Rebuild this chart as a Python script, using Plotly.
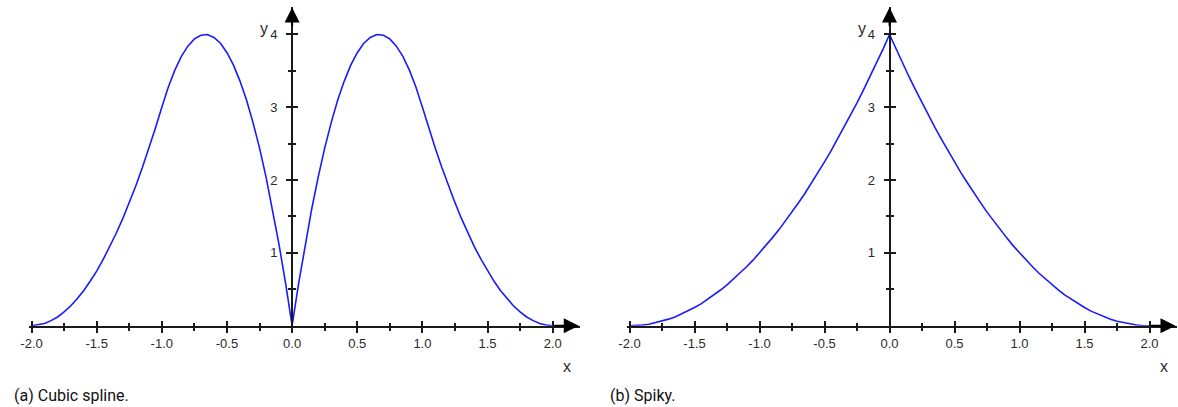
import plotly.graph_objects as go

# ---- data ----
x_vals = [-2.00, -1.95, -1.90, -1.85, -1.80, -1.75, -1.70, -1.65, -1.60, -1.55,
          -1.50, -1.45, -1.40, -1.35, -1.30, -1.25, -1.20, -1.15, -1.10, -1.05,
          -1.00, -0.95, -0.90, -0.85, -0.80, -0.75, -0.70, -0.65, -0.60, -0.55,
          -0.50, -0.45, -0.40, -0.35, -0.30, -0.25, -0.20, -0.15, -0.10, -0.05,
          0.00, 0.05, 0.10, 0.15, 0.20, 0.25, 0.30, 0.35, 0.40, 0.45,
          0.50, 0.55, 0.60, 0.65, 0.70, 0.75, 0.80, 0.85, 0.90, 0.95,
          1.00, 1.05, 1.10, 1.15, 1.20, 1.25, 1.30, 1.35, 1.40, 1.45,
          1.50, 1.55, 1.60, 1.65, 1.70, 1.75, 1.80, 1.85, 1.90, 1.95, 2.00]

cubic_spline = [0.00, 0.01, 0.03, 0.07, 0.12, 0.19, 0.27, 0.37, 0.48, 0.61,
                0.75, 0.91, 1.08, 1.27, 1.47, 1.69, 1.92, 2.17, 2.43, 2.71,
                3.00, 3.28, 3.51, 3.70, 3.84, 3.94, 3.99, 4.00, 3.96, 3.88,
                3.75, 3.58, 3.36, 3.10, 2.79, 2.44, 2.04, 1.60, 1.11, 0.58,
                0.00, 0.58, 1.11, 1.60, 2.04, 2.44, 2.79, 3.10, 3.36, 3.58,
                3.75, 3.88, 3.96, 4.00, 3.99, 3.94, 3.84, 3.70, 3.51, 3.28,
                3.00, 2.71, 2.43, 2.17, 1.92, 1.69, 1.47, 1.27, 1.08, 0.91,
                0.75, 0.61, 0.48, 0.37, 0.27, 0.19, 0.12, 0.07, 0.03, 0.01, 0.00]

spiky = [0.00, 0.00, 0.01, 0.02, 0.04, 0.06, 0.09, 0.12, 0.16, 0.20,
         0.25, 0.30, 0.36, 0.42, 0.49, 0.56, 0.64, 0.72, 0.81, 0.90,
         1.00, 1.10, 1.21, 1.32, 1.44, 1.56, 1.69, 1.82, 1.96, 2.10,
         2.25, 2.40, 2.56, 2.72, 2.89, 3.06, 3.24, 3.42, 3.61, 3.80,
         4.00, 3.80, 3.61, 3.42, 3.24, 3.06, 2.89, 2.72, 2.56, 2.40,
         2.25, 2.10, 1.96, 1.82, 1.69, 1.56, 1.44, 1.32, 1.21, 1.10,
         1.00, 0.90, 0.81, 0.72, 0.64, 0.56, 0.49, 0.42, 0.36, 0.30,
         0.25, 0.20, 0.16, 0.12, 0.09, 0.06, 0.04, 0.02, 0.01, 0.00, 0.00]

x_tick_vals = [-2.0, -1.5, -1.0, -0.5, 0.0, 0.5, 1.0, 1.5, 2.0]
x_tick_text = ["-2.0", "-1.5", "-1.0", "-0.5", "0.0", "0.5", "1.0", "1.5", "2.0"]
y_tick_vals = [1, 2, 3, 4]
y_minor_vals = [0.5, 1.5, 2.5, 3.5]
captions = ["(a) Cubic spline.", "(b) Spiky."]

# ---- styling ----
W, H = 1178, 407
XR = [-2.02, 2.21]
YR = [0, 4.38]
AX_COLOR = "#1a1a1a"
CURVE = "#1a1aff"
LABEL_FAMILY = "Liberation Sans, Arial, sans-serif"
TICK_FONT = dict(family=LABEL_FAMILY, size=13, color="#2a2a2a")

# panel geometry in pixels: (x=0 pixel, px per unit)
panels = [dict(x0=285.3, ppu=131.3), dict(x0=887.3, ppu=131.0)]
y0_px, ppu_y = 325.7, 72.8

fig = go.Figure()
layout = dict(width=W, height=H, margin=dict(l=0, r=0, t=0, b=0),
              paper_bgcolor="white", plot_bgcolor="white", showlegend=False)

y_dom = [(H - (y0_px - YR[0] * ppu_y)) / H, (H - (y0_px - YR[1] * ppu_y)) / H]
annotations = []

for i, (p, series) in enumerate(zip(panels, [cubic_spline, spiky])):
    n = i * 2
    xa_main = f"xaxis{'' if n == 0 else n + 1}"
    ya_main = f"yaxis{'' if n == 0 else n + 1}"
    xa_ov = f"xaxis{n + 2}"
    ya_ov = f"yaxis{n + 2}"
    xr_main = "x" if n == 0 else f"x{n + 1}"
    yr_main = "y" if n == 0 else f"y{n + 1}"
    xr_ov = f"x{n + 2}"
    yr_ov = f"y{n + 2}"

    left = (p["x0"] + XR[0] * p["ppu"]) / W
    right = (p["x0"] + XR[1] * p["ppu"]) / W
    ypos = p["x0"] / W

    common_x = dict(domain=[left, right], range=XR, showgrid=False, zeroline=False,
                    showline=True, linecolor=AX_COLOR, linewidth=2,
                    tickvals=x_tick_vals, tickcolor=AX_COLOR, tickwidth=1.5,
                    fixedrange=True)
    common_y = dict(domain=y_dom, range=YR, showgrid=False, zeroline=False,
                    showline=True, linecolor=AX_COLOR, linewidth=2,
                    tickvals=y_tick_vals, tickcolor=AX_COLOR, tickwidth=1.5,
                    anchor="free", position=ypos, fixedrange=True)

    layout[xa_main] = dict(common_x, anchor=yr_main, ticks="outside", ticklen=5,
                           ticktext=x_tick_text, tickfont=TICK_FONT,
                           minor=dict(dtick=0.25, tick0=0, ticks="outside", ticklen=3,
                                      tickcolor=AX_COLOR, tickwidth=1.5))
    layout[ya_main] = dict(common_y, ticks="outside", ticklen=5, tickfont=TICK_FONT,
                           ticklabelstandoff=6,
                           minor=dict(tickvals=y_minor_vals, ticks="outside", ticklen=3,
                                      tickcolor=AX_COLOR, tickwidth=1.5))
    layout[xa_ov] = dict(common_x, anchor=yr_ov, overlaying=xr_main, ticks="inside",
                         ticklen=5, showticklabels=False,
                         minor=dict(dtick=0.25, tick0=0, ticks="inside", ticklen=3,
                                    tickcolor=AX_COLOR, tickwidth=1.5))
    layout[ya_ov] = dict(common_y, overlaying=yr_main, ticks="inside", ticklen=5,
                         showticklabels=False,
                         minor=dict(tickvals=y_minor_vals, ticks="inside", ticklen=3,
                                    tickcolor=AX_COLOR, tickwidth=1.5))

    # invisible trace to keep overlay axes alive
    fig.add_trace(go.Scatter(x=x_vals, y=series, xaxis=xr_ov, yaxis=yr_ov,
                             mode="lines", line=dict(width=0), hoverinfo="skip"))
    fig.add_trace(go.Scatter(x=x_vals, y=series, xaxis=xr_main, yaxis=yr_main,
                             mode="lines", line=dict(color=CURVE, width=1.6),
                             hoverinfo="skip"))

    # axis arrowheads
    annotations.append(dict(x=2.2, y=0, ax=2.0, ay=0, xref=xr_main, yref=yr_main,
                            axref=xr_main, ayref=yr_main, showarrow=True, text="",
                            arrowhead=2, arrowsize=1.5, arrowwidth=2,
                            arrowcolor="black"))
    annotations.append(dict(x=0, y=4.37, ax=0, ay=4.1, xref=xr_main, yref=yr_main,
                            axref=xr_main, ayref=yr_main, showarrow=True, text="",
                            arrowhead=2, arrowsize=1.5, arrowwidth=2,
                            arrowcolor="black"))
    # axis names
    annotations.append(dict(x=(p["x0"] - 28) / W, y=(H - 28) / H, xref="paper",
                            yref="paper", xanchor="center", yanchor="middle",
                            text="y", showarrow=False,
                            font=dict(family=LABEL_FAMILY, size=16, color="#2a2a2a")))
    annotations.append(dict(x=(p["x0"] + 2.11 * p["ppu"]) / W, y=(H - 366) / H,
                            xref="paper", yref="paper", xanchor="center",
                            yanchor="middle", text="x", showarrow=False,
                            font=dict(family=LABEL_FAMILY, size=16, color="#2a2a2a")))
    # caption
    annotations.append(dict(x=(3 if i == 0 else 604) / W, y=(H - 395) / H,
                            xref="paper", yref="paper", xanchor="left",
                            yanchor="middle", text=captions[i], showarrow=False,
                            font=dict(family="Liberation Sans Narrow, Roboto, sans-serif",
                                      size=16, color="#111111")))

layout["annotations"] = annotations
fig.update_layout(**layout)
fig.write_html("out.html")
